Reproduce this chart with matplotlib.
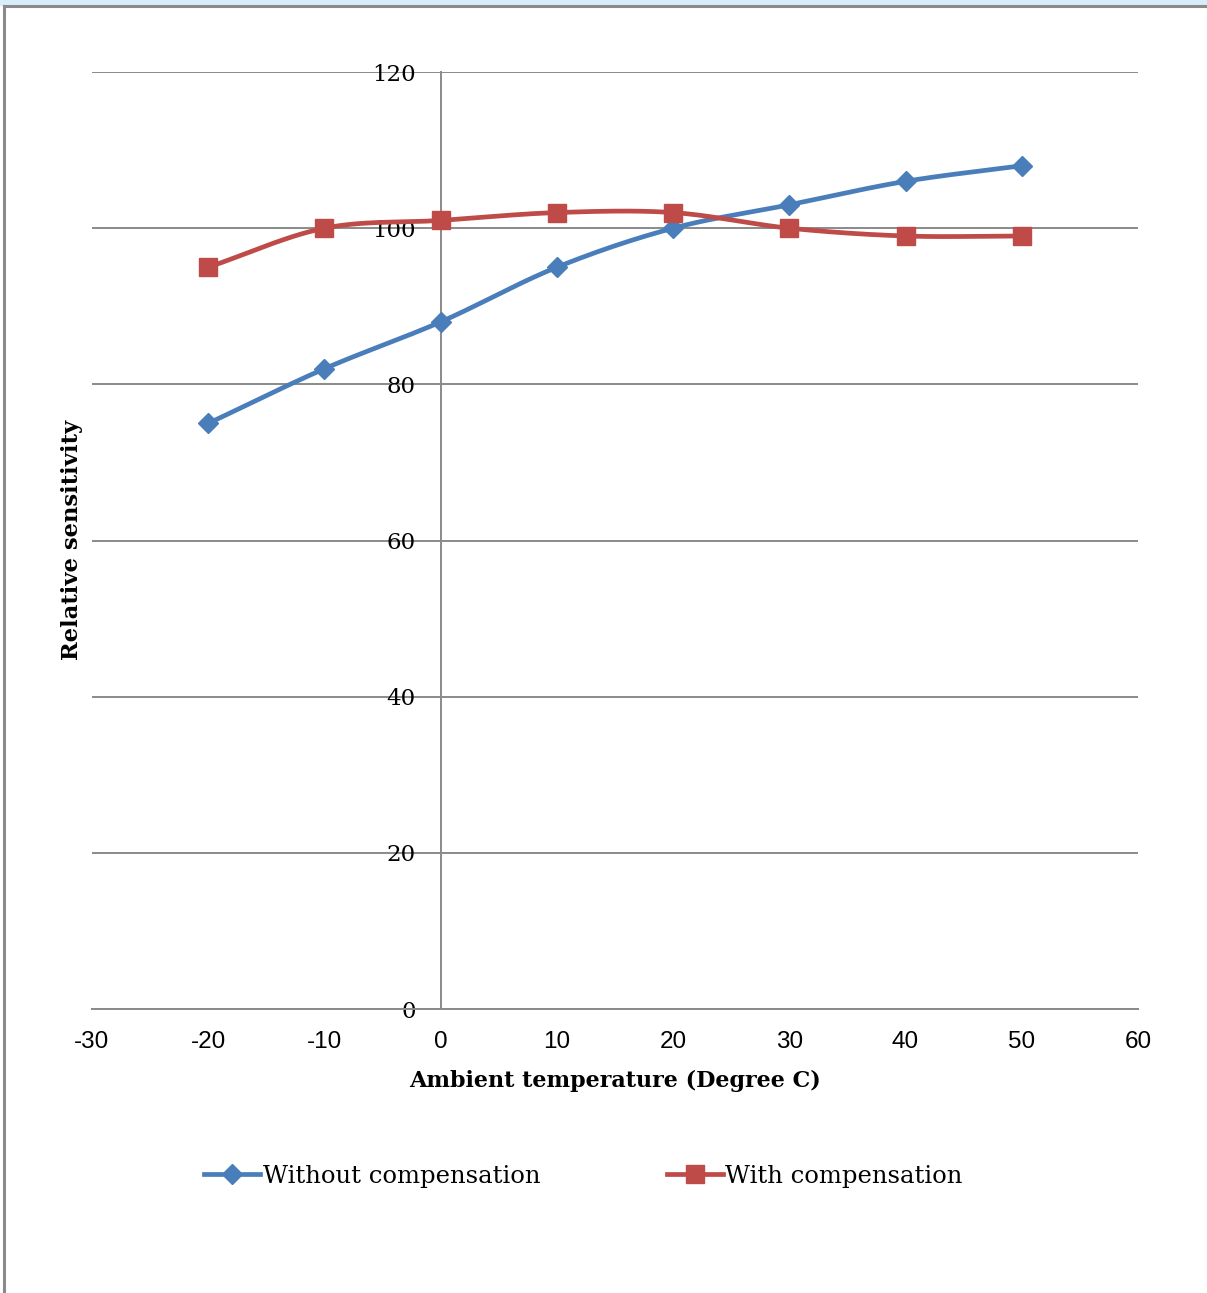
import numpy as np
import matplotlib.pyplot as plt
from matplotlib.lines import Line2D
from matplotlib.patches import Rectangle

# Datos
temps = [-20, -10, 0, 10, 20, 30, 40, 50]
sin_comp = [75, 82, 88, 95, 100, 103, 106, 108]
con_comp = [95, 100, 101, 102, 102, 100, 99, 99]
labels = ['Without compensation', 'With compensation']
xticks = [-30, -20, -10, 0, 10, 20, 30, 40, 50, 60]
yticks = [0, 20, 40, 60, 80, 100, 120]

azul = '#4A7EBB'
rojo = '#BE4B48'
gris = '#8A8A8A'
serif = 'DejaVu Serif'


# Suavizado tipo Excel (Catmull-Rom) para dibujar la curva entre puntos
def suavizar(x, y, n=30):
    x = np.asarray(x, float)
    y = np.asarray(y, float)
    px = np.concatenate([[2 * x[0] - x[1]], x, [2 * x[-1] - x[-2]]])
    py = np.concatenate([[2 * y[0] - y[1]], y, [2 * y[-1] - y[-2]]])
    t = np.linspace(0, 1, n)
    xs, ys = [], []
    for i in range(1, len(px) - 2):
        for p, out in ((px, xs), (py, ys)):
            p0, p1, p2, p3 = p[i - 1], p[i], p[i + 1], p[i + 2]
            out.append(0.5 * (2 * p1 + (-p0 + p2) * t
                              + (2 * p0 - 5 * p1 + 4 * p2 - p3) * t ** 2
                              + (-p0 + 3 * p1 - 3 * p2 + p3) * t ** 3))
    return np.concatenate(xs), np.concatenate(ys)


fig = plt.figure(figsize=(12.07, 12.93), dpi=100)
ax = fig.add_axes([0.0762, 0.2196, 0.8666, 0.7247])

# Marco de la ventana
fig.patches.append(Rectangle((0, 1 - 5 / 1293), 1, 5 / 1293, transform=fig.transFigure,
                             color='#D8ECFA', zorder=0))
fig.add_artist(Line2D([4 / 1207, 1], [1 - 6 / 1293, 1 - 6 / 1293], color=gris, lw=2.2,
                      transform=fig.transFigure))
fig.add_artist(Line2D([4 / 1207, 4 / 1207], [0, 1 - 6 / 1293], color=gris, lw=2.2,
                      transform=fig.transFigure))

# primero mover el eje y (si no se pierden las propiedades de los ticks)
ax.spines['left'].set_position(('data', 0))
ax.spines['left'].set_color(gris)
ax.spines['left'].set_linewidth(1.4)
ax.spines['bottom'].set_color(gris)
ax.spines['bottom'].set_linewidth(1.4)
ax.spines['top'].set_visible(False)
ax.spines['right'].set_visible(False)

for ys, c, m, ms in ((sin_comp, azul, 'D', 10), (con_comp, rojo, 's', 13.5)):
    sx, sy = suavizar(temps, ys)
    ax.plot(sx, sy, color=c, lw=3.4, zorder=3, solid_capstyle='round')
    ax.plot(temps, ys, ls='none', marker=m, ms=ms, color=c, zorder=4)

ax.set_xlim(-30, 60)
ax.set_ylim(0, 120)
ax.set_xticks(xticks)
ax.set_yticks(yticks)
ax.set_xticklabels([str(v) for v in xticks], family='Liberation Sans', fontsize=17.5)
ax.set_yticklabels([str(v) for v in yticks], family=serif, fontsize=16.5)
ax.tick_params(axis='both', length=0)
ax.tick_params(axis='x', pad=16)
ax.tick_params(axis='y', pad=18)
ax.yaxis.grid(True, color=gris, lw=1.4)
ax.set_axisbelow(True)

for t in ax.get_yticklabels():
    t.set_zorder(5)

ax.set_xlabel('Ambient temperature (Degree C)', family=serif, fontweight='bold',
              fontsize=16, labelpad=12)
fig.text(72 / 1207, 1 - 540 / 1293, 'Relative sensitivity', family=serif, fontweight='bold',
         fontsize=16.3, rotation=90, ha='center', va='center')

handles = [Line2D([], [], color=azul, lw=3.4, marker='D', ms=10),
           Line2D([], [], color=rojo, lw=3.4, marker='s', ms=13.5)]
fig.legend(handles, labels, loc='center', bbox_to_anchor=(0.4834, 1 - 1176 / 1293), ncol=2,
           frameon=False, prop={'family': serif, 'size': 17.5}, handlelength=2.3,
           handletextpad=0.1, columnspacing=5.2, numpoints=1)

plt.savefig('out.png', dpi=100)
